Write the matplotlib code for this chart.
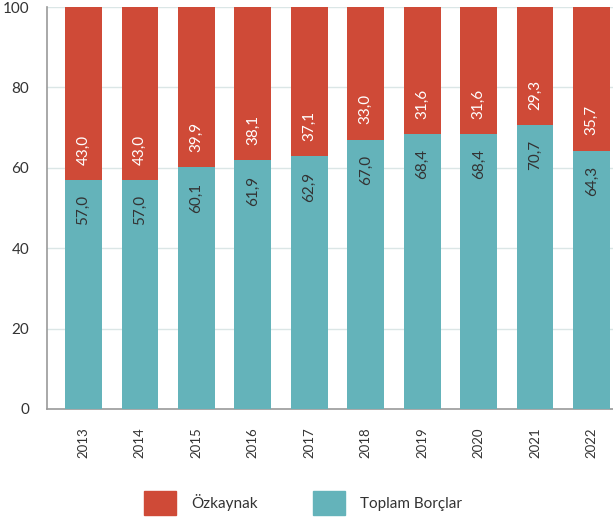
import matplotlib
matplotlib.use("Agg")
import matplotlib.pyplot as plt
from matplotlib.patches import Patch

years = ["2013", "2014", "2015", "2016", "2017", "2018", "2019", "2020", "2021", "2022"]
toplam_borclar = [57.0, 57.0, 60.1, 61.9, 62.9, 67.0, 68.4, 68.4, 70.7, 64.3]
ozkaynak = [43.0, 43.0, 39.9, 38.1, 37.1, 33.0, 31.6, 31.6, 29.3, 35.7]
yticks = [0, 20, 40, 60, 80, 100]

RED = "#CF4A37"
TEAL = "#64B3BA"
TXT = "#333333"

plt.rcParams['font.family'] = ['Lato', 'DejaVu Sans']

fig = plt.figure(figsize=(6.13, 5.19), dpi=100)
ax = fig.add_axes([0.0772, 0.212, 0.9228, 0.7745])

x = list(range(len(years)))
w = 0.65
b1 = ax.bar(x, toplam_borclar, width=w, color=TEAL, zorder=3)
b2 = ax.bar(x, ozkaynak, width=w, bottom=toplam_borclar, color=RED, zorder=3)

def fmt(v):
    return f"{v:.1f}".replace(".", ",")

for xi, tb, oz in zip(x, toplam_borclar, ozkaynak):
    ax.annotate(fmt(tb), (xi, tb), xytext=(0, -11), textcoords="offset points",
                rotation=90, ha="center", va="top", color=TXT, fontsize=11, zorder=4)
    ax.annotate(fmt(oz), (xi, tb), xytext=(0, 11), textcoords="offset points",
                rotation=90, ha="center", va="bottom", color="white", fontsize=11, zorder=4)

ax.set_xlim(-0.64, 9.38)
ax.set_ylim(0, 100)
ax.set_yticks(yticks)
ax.set_yticklabels([str(t) for t in yticks], fontsize=11, color=TXT)
ax.set_xticks(x)
ax.set_xticklabels(years, rotation=90, fontsize=9.5, color=TXT)
ax.tick_params(axis="y", length=0, pad=13)
ax.tick_params(axis="x", length=0, pad=13)
ax.grid(axis="y", color="#dbe6e6", linewidth=1, zorder=0)
ax.set_axisbelow(True)
for s in ["top", "right"]:
    ax.spines[s].set_visible(False)
for s in ["left", "bottom"]:
    ax.spines[s].set_color("#9a9a9a")
    ax.spines[s].set_linewidth(1.2)

handles = [Patch(color=RED, label="Özkaynak"), Patch(color=TEAL, label="Toplam Borçlar")]
fig.legend(handles=handles, loc="center", bbox_to_anchor=(0.494, 0.031), ncol=2,
           frameon=False, fontsize=11, handlelength=2.1, handleheight=2.1,
           handletextpad=1.0, columnspacing=3.6, labelcolor=TXT, borderpad=0)

fig.savefig("out.png", dpi=100)
